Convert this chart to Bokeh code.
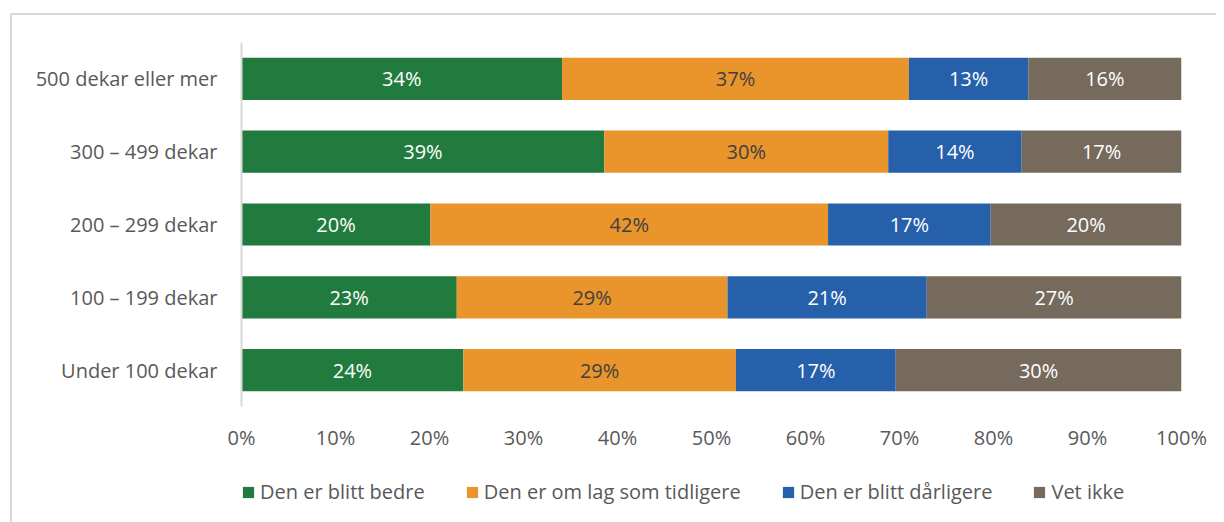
from bokeh.plotting import figure
from bokeh.layouts import column
from bokeh.models import ColumnDataSource, FactorRange, LabelSet, Legend, LegendItem, NumeralTickFormatter, FixedTicker, Range1d
from bokeh.embed import file_html
from bokeh.resources import INLINE
from bokeh.core.properties import value

categories = ["500 dekar eller mer", "300 – 499 dekar", "200 – 299 dekar", "100 – 199 dekar", "Under 100 dekar"]
series = ["Den er blitt bedre", "Den er om lag som tidligere", "Den er blitt dårligere", "Vet ikke"]
bedre = [34.1, 38.6, 20.1, 22.9, 23.6]
om_lag = [36.9, 30.2, 42.3, 28.8, 29.0]
darligere = [12.7, 14.2, 17.3, 21.2, 17.0]
vet_ikke = [16.3, 17.0, 20.3, 27.1, 30.4]
colors = ["#217B3E", "#EA942C", "#2660AB", "#766A5C"]
label_colors = ["#FFFFFF", "#404040", "#FFFFFF", "#FFFFFF"]
x_ticks = [0, 0.1, 0.2, 0.3, 0.4, 0.5, 0.6, 0.7, 0.8, 0.9, 1.0]

FONT = "Open Sans"
FS = "20px"
keys = ["bedre", "om_lag", "darligere", "vet_ikke"]
vals = [bedre, om_lag, darligere, vet_ikke]

data = {"cat": categories}
for k, v in zip(keys, vals):
    data[k] = [x / 100.0 for x in v]
source = ColumnDataSource(data)

p = figure(
    width=1204, height=441,
    y_range=FactorRange(*reversed(categories)),
    x_range=(0, 1),
    output_backend="svg", toolbar_location=None,
    min_border_left=229, min_border_right=35, min_border_top=27, min_border_bottom=50,
)

renderers = p.hbar_stack(keys, y="cat", height=0.58, color=colors, source=source, line_color=None)

# labels
for i, k in enumerate(keys):
    starts = [sum(data[kk][j] for kk in keys[:i]) for j in range(len(categories))]
    mids = [s + d / 2 for s, d in zip(starts, data[k])]
    texts = [f"{round(x * 100)}%" for x in data[k]]
    ls = ColumnDataSource(dict(x=mids, y=categories, t=texts))
    p.add_layout(LabelSet(x="x", y="y", text="t", source=ls, text_align="center", text_baseline="middle",
                          text_color=label_colors[i], text_font=value(FONT), text_font_size=FS))

p.xgrid.visible = False
p.ygrid.visible = False
p.outline_line_color = None

p.xaxis.ticker = FixedTicker(ticks=x_ticks)
p.xaxis.formatter = NumeralTickFormatter(format="0%")
p.xaxis.axis_line_color = None
p.xaxis.major_tick_line_color = None
p.xaxis.minor_tick_line_color = None
p.xaxis.major_label_standoff = 11
p.xaxis.major_label_text_font = FONT
p.xaxis.major_label_text_font_size = FS
p.xaxis.major_label_text_color = "#595959"

p.yaxis.axis_line_color = "#D9D9D9"
p.yaxis.axis_line_width = 2
p.yaxis.major_tick_line_color = None
p.yaxis.minor_tick_line_color = None
p.yaxis.major_label_standoff = 18
p.yaxis.major_label_text_font = FONT
p.yaxis.major_label_text_font_size = FS
p.yaxis.major_label_text_color = "#595959"

# legend strip below the chart
leg = figure(width=1204, height=66, x_range=Range1d(0, 1), y_range=Range1d(0, 1),
             x_axis_type=None, y_axis_type=None, output_backend="svg", toolbar_location=None,
             min_border=0)
leg.grid.visible = False
leg.outline_line_color = None
leg_renderers = [leg.rect(x=[-5], y=[-5], width=0.01, height=0.01, fill_color=c, line_color=None) for c in colors]

legend = Legend(items=[LegendItem(label=s, renderers=[r]) for s, r in zip(series, leg_renderers)],
                orientation="horizontal", location=(0, 17),
                glyph_width=14, glyph_height=14, label_height=20, label_standoff=5, spacing=40,
                label_text_font=FONT, label_text_font_size=FS, label_text_color="#595959",
                border_line_color=None, background_fill_alpha=0, margin=0, padding=0)
leg.add_layout(legend, "center")

layout = column(p, leg, spacing=0,
                styles={"border-top": "2px solid #D9D9D9", "border-left": "2px solid #D9D9D9",
                        "margin-left": "10px", "margin-top": "13px"})

open("out.html", "w").write(file_html(layout, INLINE))
